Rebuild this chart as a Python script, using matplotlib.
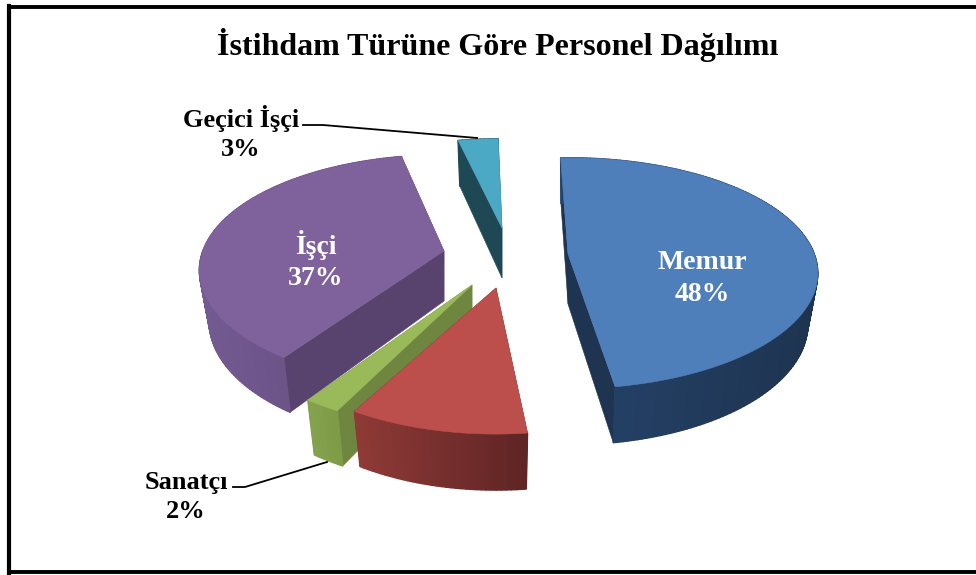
import numpy as np
import matplotlib
matplotlib.use("Agg")
import matplotlib.pyplot as plt
from matplotlib.collections import PolyCollection
from matplotlib.colors import to_rgb
from matplotlib.patches import Polygon

# data
title = "İstihdam Türüne Göre Personel Dağılımı"
categories = ["Memur", "Diğer", "Sanatçı", "İşçi", "Geçici İşçi"]
values = [48, 10, 2, 37, 3]

# style / layout
top_colors = ["#4F7FBB", "#BC4F4C", "#9ABA59", "#7F619C", "#4BA9C5"]
wall_left = ["#25436A", "#8F3A37", "#85A34E", "#735A91", "#1F4855"]   # wall colour on screen-left
wall_right = ["#1E3450", "#5E2424", "#7D9B45", "#61487A", "#1F4855"]
cut_colors = ["#1E3450", "#6A2A28", "#6F8640", "#58436E", "#1F4855"]
apexes = [(568, 254), (496, 288), (472, 285), (444, 251), (502, 228)]
x_scale = [0.985, 0.975, 1.0, 0.965, 1.0]
y_scale = [0.96, 1.04, 1.03, 0.96, 0.89]
angle_nudge = [-0.5, 2.5, 0.0, 0.5, 0.5]
start_angle = -1.5
RX, RY, K, DEPTH, SHRINK = 250.0, 117.0, 0.167, 50.0, 0.96

fig = plt.figure(figsize=(9.76, 5.75), dpi=100, facecolor="white")
ax = fig.add_axes([0, 0, 1, 1])
ax.set_xlim(0, 976)
ax.set_ylim(575, 0)
ax.axis("off")


def project(i, theta_deg, r=1.0):
    t = np.radians(theta_deg)
    u, v = r * np.sin(t), -r * np.cos(t)
    s = 1.0 / (1.0 - K * v)
    return RX * x_scale[i] * u * s, RY * y_scale[i] * v * s, s


def top_pts(i, theta, r=1.0):
    x, y, _ = project(i, theta, r)
    return np.column_stack([apexes[i][0] + x, apexes[i][1] + y])


def bottom_pts(i, theta, r=1.0):
    x, y, s = project(i, theta, r)
    d = DEPTH * (1 + 0.6 * (s - 1))
    return np.column_stack([apexes[i][0] + SHRINK * x, apexes[i][1] + y + d])


def mix(c1, c2, f):
    a, b = np.array(to_rgb(c1)), np.array(to_rgb(c2))
    return tuple(a + (b - a) * f)


total = sum(values)
edges = start_angle + np.cumsum([0] + values) * 360.0 / total
spans = list(zip(edges[:-1], edges[1:]))

for i, z in zip([4, 3, 2, 1, 0], [1, 2, 3, 4, 5]):
    a0, a1 = spans[i][0] + angle_nudge[i], spans[i][1] + angle_nudge[i]
    apex = apexes[i]
    thetas = np.linspace(a0, a1, max(int(a1 - a0), 6))
    radii = np.linspace(0, 1, 2)

    # radial cut faces
    for ang in (a0, a1):
        t = top_pts(i, np.array([ang, ang]), radii)
        b = bottom_pts(i, np.array([ang, ang]), radii)
        ax.add_patch(Polygon(np.vstack([t, b[::-1]]), closed=True,
                             facecolor=cut_colors[i], edgecolor=cut_colors[i], lw=0.4, zorder=z))

    # outer wall with a horizontal gradient
    tp, bp = top_pts(i, thetas), bottom_pts(i, thetas)
    quads, cols = [], []
    xmin, xmax = tp[:, 0].min(), tp[:, 0].max()
    for j in range(len(thetas) - 1):
        quads.append([tp[j], tp[j + 1], bp[j + 1], bp[j]])
        f = (0.5 * (tp[j, 0] + tp[j + 1, 0]) - xmin) / max(xmax - xmin, 1)
        cols.append(mix(wall_left[i], wall_right[i], f))
    ax.add_collection(PolyCollection(quads, facecolors=cols, edgecolors=cols, linewidths=1.0, zorder=z + 0.2))

    # top face
    top = np.vstack([[apex], top_pts(i, thetas)])
    ax.add_patch(Polygon(top, closed=True, facecolor=top_colors[i], edgecolor=top_colors[i],
                         lw=0.4, zorder=z + 0.5))

# labels
font = dict(family="Liberation Serif", fontweight="bold", ha="center", va="center", zorder=20,
            linespacing=1.32)
ax.text(498, 45, title, fontsize=23, color="black", **font)
ax.text(702, 278.5, f"{categories[0]}\n{values[0]}%", fontsize=20, color="white", **font)
ax.text(316, 260.5, f"{categories[3]}\n{values[3]}%", fontsize=20, color="white", **font)
ax.text(241, 133, f"{categories[4]}\n{values[4]}%", fontsize=19, color="black", **font)
ax.text(186, 497, f"{categories[2]}\n{values[2]}%", fontsize=19, color="black", **font)

# leader lines
ax.plot([303, 323, 477], [125, 125, 138], color="black", lw=1.3, zorder=20)
ax.plot([233, 245, 327], [487, 487, 462], color="black", lw=1.3, zorder=20)

# frame: left, top and bottom rules run off the right edge
ax.plot([976, 9, 9, 976], [6.5, 6.5, 572, 572], color="black", lw=2.8, solid_joinstyle="miter", zorder=30)
ax.plot([9, 9], [6, 573], color="black", lw=3.0, zorder=30)

fig.savefig("out.png", dpi=100, facecolor="white")
